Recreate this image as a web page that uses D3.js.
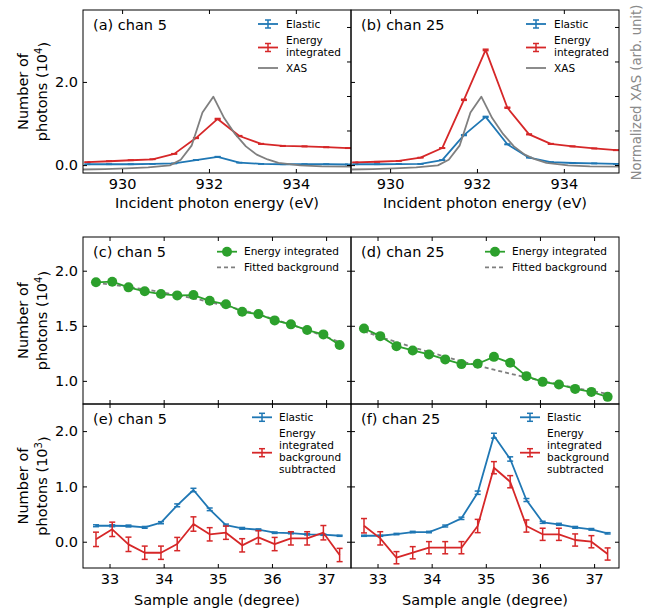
<!DOCTYPE html>
<html><head><meta charset="utf-8">
<script src="https://cdn.jsdelivr.net/npm/d3@7"></script>
<style>body{margin:0;background:#fff} text{font-family:"DejaVu Sans",sans-serif}</style>
</head><body><svg id="c" width="657" height="612"></svg>
<script>
// ---------- data ----------
const energy = [929.2, 929.7, 930.2, 930.7, 931.2, 931.7, 932.2, 932.7, 933.2, 933.7, 934.2, 934.7, 935.2];
const elasticA = [0.02, 0.02, 0.02, 0.03, 0.04, 0.12, 0.20, 0.06, 0.03, 0.02, 0.02, 0.02, 0.015];
const elasticAErr = [0.002, 0.002, 0.002, 0.002, 0.002, 0.004, 0.005, 0.003, 0.002, 0.002, 0.002, 0.002, 0.002];
const integA = [0.07, 0.093, 0.117, 0.14, 0.27, 0.65, 1.11, 0.70, 0.51, 0.46, 0.45, 0.43, 0.41];
const integAErr = [0.003, 0.003, 0.004, 0.004, 0.005, 0.008, 0.011, 0.008, 0.007, 0.007, 0.007, 0.007, 0.006];
const elasticB = [0.02, 0.02, 0.025, 0.03, 0.12, 0.72, 1.16, 0.50, 0.18, 0.07, 0.05, 0.04, 0.03];
const elasticBErr = [0.002, 0.002, 0.002, 0.002, 0.004, 0.009, 0.011, 0.007, 0.004, 0.003, 0.002, 0.002, 0.002];
const integB = [0.065, 0.08, 0.10, 0.18, 0.41, 1.57, 2.77, 1.38, 0.74, 0.51, 0.45, 0.40, 0.36];
const integBErr = [0.003, 0.003, 0.003, 0.004, 0.006, 0.013, 0.017, 0.012, 0.009, 0.007, 0.007, 0.006, 0.006];
const xasEnergy = [929.1, 929.6, 930.1, 930.6, 931.1, 931.35, 931.6, 931.85, 932.1, 932.35, 932.6, 932.85, 933.1, 933.35, 933.6, 934.1, 934.6, 935.3];
const xas = [-0.065, -0.06, -0.05, -0.035, -0.005, 0.075, 0.28, 0.76, 0.99, 0.68, 0.45, 0.27, 0.15, 0.08, 0.03, -0.005, -0.02, -0.025];

const angle = [32.75, 33.05, 33.35, 33.65, 33.95, 34.25, 34.55, 34.85, 35.15, 35.45, 35.75, 36.05, 36.35, 36.65, 36.95, 37.25];
const integC = [1.895, 1.900, 1.849, 1.813, 1.788, 1.776, 1.779, 1.727, 1.695, 1.627, 1.606, 1.549, 1.513, 1.461, 1.422, 1.325];
const bgC = [1.890, 1.873, 1.853, 1.831, 1.806, 1.779, 1.749, 1.716, 1.681, 1.643, 1.602, 1.558, 1.511, 1.461, 1.408, 1.352];
const integD = [1.476, 1.406, 1.315, 1.276, 1.240, 1.195, 1.152, 1.155, 1.218, 1.164, 1.043, 0.991, 0.967, 0.927, 0.900, 0.855];
const bgD = [1.450, 1.400, 1.352, 1.306, 1.262, 1.219, 1.178, 1.139, 1.101, 1.065, 1.031, 0.998, 0.967, 0.937, 0.909, 0.882];

const elasticE = [0.289, 0.289, 0.284, 0.26, 0.344, 0.658, 0.935, 0.586, 0.302, 0.242, 0.217, 0.163, 0.157, 0.134, 0.127, 0.108];
const elasticEErr = [0.017, 0.017, 0.017, 0.016, 0.019, 0.026, 0.031, 0.024, 0.017, 0.016, 0.015, 0.013, 0.013, 0.012, 0.011, 0.010];
const subE = [0.043, 0.224, -0.047, -0.199, -0.199, -0.042, 0.32, 0.134, 0.163, -0.065, 0.08, -0.042, 0.061, 0.061, 0.163, -0.24];
const subEErr = [0.13, 0.13, 0.13, 0.12, 0.12, 0.12, 0.13, 0.12, 0.12, 0.12, 0.12, 0.12, 0.12, 0.12, 0.13, 0.12];
const elasticF = [0.108, 0.108, 0.139, 0.175, 0.175, 0.284, 0.423, 0.886, 1.917, 1.496, 0.754, 0.351, 0.315, 0.26, 0.224, 0.152];
const elasticFErr = [0.010, 0.010, 0.012, 0.013, 0.013, 0.017, 0.021, 0.030, 0.044, 0.039, 0.027, 0.019, 0.018, 0.016, 0.015, 0.012];
const subF = [0.289, 0.061, -0.289, -0.199, -0.108, -0.108, -0.108, 0.284, 1.338, 1.085, 0.284, 0.134, 0.134, 0.031, 0.0, -0.222];
const subFErr = [0.13, 0.12, 0.11, 0.11, 0.11, 0.11, 0.11, 0.12, 0.11, 0.11, 0.11, 0.11, 0.11, 0.11, 0.11, 0.11];

const energyTicks = [930, 932, 934];
const angleTicks = [33, 34, 35, 36, 37];
const topYTicks = [0, 2];
const xasTicks = [0, 0.5, 1, 1.5, 2];
const midYTicks = [1.0, 1.5, 2.0];
const botYTicks = [0, 1, 2];

// ---------- layout ----------
const svg = d3.select('#c');
const FS = 14.5, LFS = 10.5;
const BLUE = '#1f77b4', RED = '#d62728', GREEN = '#2ca02c', GRAY = '#7f7f7f';
const L = 83, M = 351, R = 619, T1 = 10, B1 = 173, T2 = 237, B2 = 404, B3 = 568;
let clipN = 0;

function panel(x0, x1, y0, y1, xd, yd) {
  const x = d3.scaleLinear().domain(xd).range([x0, x1]);
  const y = d3.scaleLinear().domain(yd).range([y1, y0]);
  const id = 'clip' + (clipN++);
  svg.append('clipPath').attr('id', id).append('rect')
    .attr('x', x0).attr('y', y0).attr('width', x1 - x0).attr('height', y1 - y0);
  const g = svg.append('g');
  const plot = g.append('g').attr('clip-path', `url(#${id})`);
  return {x, y, g, plot, x0, x1, y0, y1};
}

function axes(p, xt, xlab, yt, ylab, yfmt, rightScale, rightTicks) {
  p.g.append('g').attr('transform', `translate(0,${p.y1})`)
    .call(d3.axisBottom(p.x).tickValues(xt).tickSize(-4).tickPadding(6).tickFormat(xlab ? d3.format('d') : ''));
  p.g.append('g').attr('transform', `translate(0,${p.y0})`)
    .call(d3.axisTop(p.x).tickValues(xt).tickSize(-4).tickFormat(''));
  p.g.append('g').attr('transform', `translate(${p.x0},0)`)
    .call(d3.axisLeft(p.y).tickValues(yt).tickSize(-4).tickPadding(5).tickFormat(ylab ? d3.format(yfmt) : ''));
  p.g.append('g').attr('transform', `translate(${p.x1},0)`)
    .call(d3.axisRight(rightScale || p.y).tickValues(rightTicks || yt).tickSize(-4).tickFormat(''));
  p.g.selectAll('.domain').remove();
  p.g.selectAll('.tick line').attr('stroke', '#000').attr('stroke-width', 1);
  p.g.selectAll('.tick text').attr('font-size', FS).attr('fill', '#000').attr('font-family', '"DejaVu Sans",sans-serif');
}

function frame(p) {
  p.g.append('rect').attr('x', p.x0).attr('y', p.y0).attr('width', p.x1 - p.x0).attr('height', p.y1 - p.y0)
    .attr('fill', 'none').attr('stroke', '#000').attr('stroke-width', 1);
}

function line(p, xs, vs, color, ys, dash, w) {
  const yy = ys || p.y;
  p.plot.append('path').datum(xs.map((v, i) => [v, vs[i]]))
    .attr('d', d3.line().x(d => p.x(d[0])).y(d => yy(d[1])))
    .attr('fill', 'none').attr('stroke', color).attr('stroke-width', w || 1.8)
    .attr('stroke-linejoin', 'round')
    .attr('stroke-dasharray', dash || null);
}

function errbars(p, xs, vs, es, color) {
  const g = p.plot.append('g').attr('stroke', color).attr('stroke-width', 1.5);
  xs.forEach((xv, i) => {
    const X = p.x(xv), y1 = p.y(vs[i] - es[i]), y2 = p.y(vs[i] + es[i]);
    g.append('line').attr('x1', X).attr('x2', X).attr('y1', y1).attr('y2', y2);
    g.append('line').attr('x1', X - 3).attr('x2', X + 3).attr('y1', y1).attr('y2', y1);
    g.append('line').attr('x1', X - 3).attr('x2', X + 3).attr('y1', y2).attr('y2', y2);
  });
}

function markers(p, xs, vs, color) {
  p.plot.append('g').selectAll('circle').data(xs).join('circle')
    .attr('cx', d => p.x(d)).attr('cy', (d, i) => p.y(vs[i])).attr('r', 5).attr('fill', color);
}

function text(x, y, str, opts) {
  const t = svg.append('text').attr('x', x).attr('y', y).attr('font-size', (opts && opts.fs) || FS)
    .attr('fill', (opts && opts.color) || '#000').attr('text-anchor', (opts && opts.anchor) || 'start')
    .attr('dy', '0.36em');
  t.text(str);
  return t;
}

function multiText(x, yc, lines, lh) {
  const n = lines.length;
  lines.forEach((s, i) => text(x, yc + (i - (n - 1) / 2) * lh, s, {fs: LFS}));
}

function legErr(x, y, color) {
  const g = svg.append('g').attr('stroke', color).attr('stroke-width', 1.8);
  g.append('line').attr('x1', x).attr('x2', x + 20).attr('y1', y).attr('y2', y);
  g.append('line').attr('x1', x + 10).attr('x2', x + 10).attr('y1', y - 4).attr('y2', y + 4).attr('stroke-width', 1.5);
  g.append('line').attr('x1', x + 7).attr('x2', x + 13).attr('y1', y - 4).attr('y2', y - 4).attr('stroke-width', 1.5);
  g.append('line').attr('x1', x + 7).attr('x2', x + 13).attr('y1', y + 4).attr('y2', y + 4).attr('stroke-width', 1.5);
}
function legLine(x, y, color, dash) {
  svg.append('line').attr('x1', x).attr('x2', x + 20).attr('y1', y).attr('y2', y)
    .attr('stroke', color).attr('stroke-width', 1.8).attr('stroke-dasharray', dash || null);
}
function legMarker(x, y, color) {
  legLine(x, y, color);
  svg.append('circle').attr('cx', x + 10).attr('cy', y).attr('r', 5).attr('fill', color);
}

// ---------- top panels ----------
const xdE = [929.1, 935.27];
const ydTop = [-0.19, 3.73];
const ydXas = [-0.116, 2.246];
[[L, M, elasticA, elasticAErr, integA, integAErr, '(a) chan 5'],
 [M, R, elasticB, elasticBErr, integB, integBErr, '(b) chan 25']].forEach(([x0, x1, el, elE, ig, igE, lab]) => {
  const p = panel(x0, x1, T1, B1, xdE, ydTop);
  const yx = d3.scaleLinear().domain(ydXas).range([B1, T1]);
  line(p, energy, el, BLUE); errbars(p, energy, el, elE, BLUE);
  line(p, energy, ig, RED); errbars(p, energy, ig, igE, RED);
  line(p, xasEnergy, xas, GRAY, yx);
  axes(p, energyTicks, true, topYTicks, x0 === L, '.1f', yx, xasTicks);
  frame(p);
  text(x0 + 10, T1 + 15, lab);
  legErr(x1 - 93, T1 + 14, BLUE); text(x1 - 65, T1 + 14, 'Elastic', {fs: LFS});
  legErr(x1 - 93, T1 + 37.5, RED); multiText(x1 - 65, T1 + 36.2, ['Energy', 'integrated'], 11.2);
  legLine(x1 - 93, T1 + 58, GRAY); text(x1 - 65, T1 + 58, 'XAS', {fs: LFS});
  svg.append('text').attr('x', (x0 + x1) / 2).attr('y', 208).attr('text-anchor', 'middle')
    .attr('font-size', FS).text('Incident photon energy (eV)');
});

// ---------- middle panels ----------
const xdA = [32.51, 37.46];
const ydMid = [0.79, 2.306];
[[L, M, integC, bgC, '(c) chan 5'], [M, R, integD, bgD, '(d) chan 25']].forEach(([x0, x1, ig, bg, lab]) => {
  const p = panel(x0, x1, T2, B2, xdA, ydMid);
  line(p, angle, bg, GRAY, null, '4,3', 1.8);
  line(p, angle, ig, GREEN); markers(p, angle, ig, GREEN);
  axes(p, angleTicks, false, midYTicks, x0 === L, '.1f');
  frame(p);
  text(x0 + 10, T2 + 15, lab);
  legMarker(x1 - 134, T2 + 14.7, GREEN); text(x1 - 107, T2 + 14.7, 'Energy integrated', {fs: LFS});
  legLine(x1 - 134, T2 + 30.3, GRAY, '4,3'); text(x1 - 107, T2 + 30.3, 'Fitted background', {fs: LFS});
});

// ---------- bottom panels ----------
const ydBot = [-0.475, 2.49];
[[L, M, elasticE, elasticEErr, subE, subEErr, '(e) chan 5'],
 [M, R, elasticF, elasticFErr, subF, subFErr, '(f) chan 25']].forEach(([x0, x1, el, elE, sb, sbE, lab]) => {
  const p = panel(x0, x1, B2, B3, xdA, ydBot);
  line(p, angle, el, BLUE); errbars(p, angle, el, elE, BLUE);
  line(p, angle, sb, RED); errbars(p, angle, sb, sbE, RED);
  axes(p, angleTicks, true, botYTicks, x0 === L, '.1f');
  frame(p);
  text(x0 + 10, B2 + 14.5, lab);
  legErr(x1 - 99, B2 + 13.3, BLUE); text(x1 - 72, B2 + 13.3, 'Elastic', {fs: LFS});
  legErr(x1 - 99, B2 + 48.7, RED);
  multiText(x1 - 72, B2 + 47.3, ['Energy', 'integrated', 'background', 'subtracted'], 12);
  svg.append('text').attr('x', (x0 + x1) / 2).attr('y', 605).attr('text-anchor', 'middle')
    .attr('font-size', FS).text('Sample angle (degree)');
});

// ---------- y labels ----------
function ylabel(yc, exp) {
  const g = svg.append('g');
  g.append('text').attr('transform', `translate(28,${yc}) rotate(-90)`).attr('text-anchor', 'middle')
    .attr('font-size', FS).text('Number of');
  const t = g.append('text').attr('transform', `translate(47,${yc}) rotate(-90)`).attr('text-anchor', 'middle')
    .attr('font-size', FS);
  t.append('tspan').text('photons (10');
  t.append('tspan').attr('dy', '-0.45em').attr('font-size', FS * 0.7).text(exp);
  t.append('tspan').attr('dy', '0.45em').text(')');
}
ylabel((T1 + B1) / 2, '4');
ylabel((T2 + B2) / 2, '4');
ylabel((B2 + B3) / 2, '3');
svg.append('text').attr('transform', `translate(641,${(T1 + B1) / 2 + 1}) rotate(-90)`).attr('text-anchor', 'middle')
  .attr('font-size', 13.2).attr('fill', '#8a8a8a').text('Normalized XAS (arb. unit)');
</script></body></html>
